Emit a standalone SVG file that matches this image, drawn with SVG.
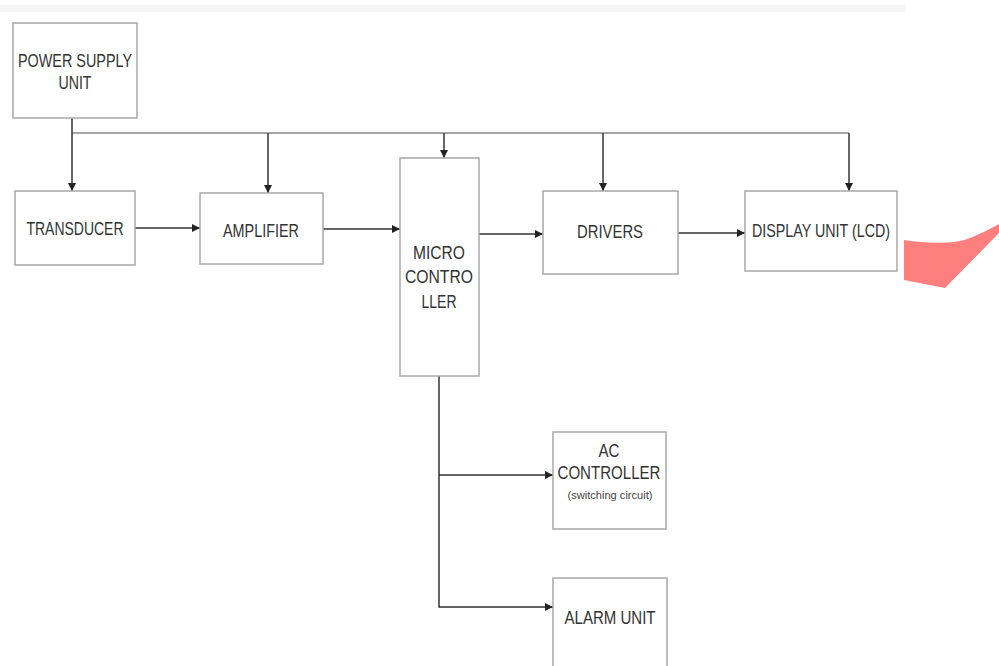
<svg xmlns="http://www.w3.org/2000/svg" width="999" height="666" viewBox="0 0 999 666">
<style>
.box{fill:#fff;stroke:#a8a8a8;stroke-width:1.5}
.t{font-family:"Liberation Sans",Arial,sans-serif;font-size:18px;fill:#333;text-anchor:middle}
.s{font-family:"Liberation Sans",Arial,sans-serif;font-size:11px;fill:#444;text-anchor:middle}
.c{fill:none;stroke:#333;stroke-width:1.5}
.bus{fill:none;stroke:#888;stroke-width:1.5}
</style>
<defs>
<marker id="ah" viewBox="0 0 10 10" refX="10" refY="5" markerWidth="8" markerHeight="8" markerUnits="userSpaceOnUse" orient="auto">
<path d="M0,0 L10,5 L0,10 Z" fill="#222"/>
</marker>
</defs>
<rect width="999" height="666" fill="#fff"/>
<rect x="0" y="5" width="905" height="7" fill="#f6f6f6"/>
<g id="connectors">
<path class="bus" d="M72,133 H849"/>
<path class="c" d="M72,118 V191" marker-end="url(#ah)"/>
<path class="c" d="M268,133 V193" marker-end="url(#ah)"/>
<path class="c" d="M444,133 V158" marker-end="url(#ah)"/>
<path class="c" d="M603,133 V191" marker-end="url(#ah)"/>
<path class="c" d="M849,133 V191" marker-end="url(#ah)"/>
<path class="c" d="M135,228 H200" marker-end="url(#ah)"/>
<path class="c" d="M323,229 H400" marker-end="url(#ah)"/>
<path class="c" d="M479,234 H543" marker-end="url(#ah)"/>
<path class="c" d="M678,233 H745" marker-end="url(#ah)"/>
<path class="c" d="M439,376 V607 H553" marker-end="url(#ah)"/>
<path class="c" d="M439,475 H553" marker-end="url(#ah)"/>
</g>
<g id="power">
<rect class="box" x="13" y="23" width="124" height="95"/>
<text class="t" x="75" y="67" textLength="114" lengthAdjust="spacingAndGlyphs">POWER SUPPLY</text>
<text class="t" x="75" y="89" textLength="33" lengthAdjust="spacingAndGlyphs">UNIT</text>
</g>
<g id="transducer">
<rect class="box" x="15" y="191" width="120" height="74"/>
<text class="t" x="75" y="235" textLength="97" lengthAdjust="spacingAndGlyphs">TRANSDUCER</text>
</g>
<g id="amplifier">
<rect class="box" x="200" y="193" width="123" height="71"/>
<text class="t" x="261" y="237" textLength="76" lengthAdjust="spacingAndGlyphs">AMPLIFIER</text>
</g>
<g id="microcontroller">
<rect class="box" x="400" y="158" width="79" height="218"/>
<text class="t" x="439" y="259" textLength="52" lengthAdjust="spacingAndGlyphs">MICRO</text>
<text class="t" x="439" y="283" textLength="68" lengthAdjust="spacingAndGlyphs">CONTRO</text>
<text class="t" x="439" y="308" textLength="35" lengthAdjust="spacingAndGlyphs">LLER</text>
</g>
<g id="drivers">
<rect class="box" x="543" y="191" width="135" height="83"/>
<text class="t" x="610" y="238" textLength="66" lengthAdjust="spacingAndGlyphs">DRIVERS</text>
</g>
<g id="display">
<rect class="box" x="745" y="191" width="152" height="80"/>
<text class="t" x="821" y="237" textLength="138" lengthAdjust="spacingAndGlyphs">DISPLAY UNIT (LCD)</text>
</g>
<g id="ac">
<rect class="box" x="553" y="432" width="113" height="97"/>
<text class="t" x="609" y="457" textLength="21" lengthAdjust="spacingAndGlyphs">AC</text>
<text class="t" x="609" y="479" textLength="103" lengthAdjust="spacingAndGlyphs">CONTROLLER</text>
<text class="s" x="610" y="499" textLength="85" lengthAdjust="spacingAndGlyphs">(switching circuit)</text>
</g>
<g id="alarm">
<rect class="box" x="553" y="578" width="114" height="100"/>
<text class="t" x="610" y="624" textLength="91" lengthAdjust="spacingAndGlyphs">ALARM UNIT</text>
</g>
<path d="M904,240 C930,244 955,244 970,238 C982,233 992,228 999,224 V233 L945,288 L904,280 Z" fill="#ff7f7f"/>
</svg>
